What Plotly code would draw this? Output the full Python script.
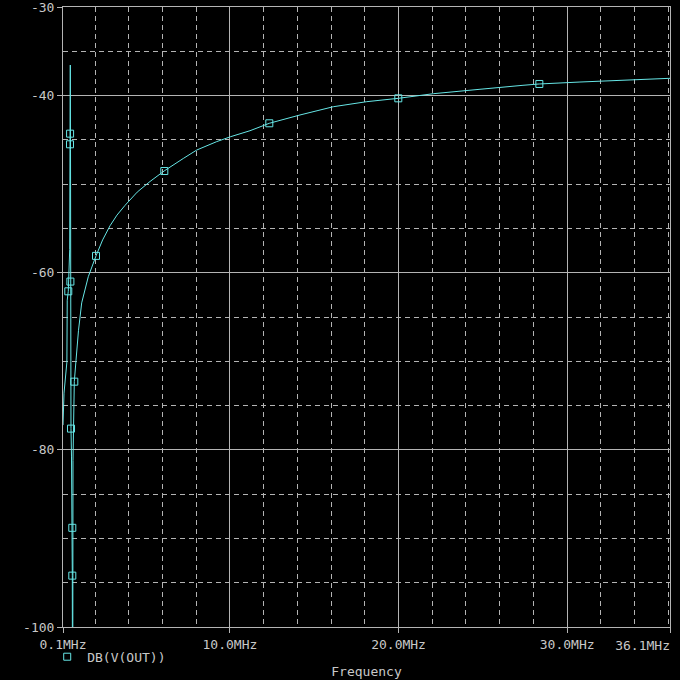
import plotly.graph_objects as go

# Trace DB(V(OUT)), in drawing order (MHz, dB)
freq_mhz = [0.10, 0.16, 0.33, 0.35, 0.414, 0.497, 0.515, 0.52, 0.533, 0.545,
            0.539, 0.557, 0.574, 0.604, 0.652, 0.652, 0.657,
            0.681, 0.693, 0.711, 0.77, 0.871, 1.019, 1.209, 1.60, 2.057,
            2.45, 2.888, 3.30, 3.777, 4.50, 5.26, 6.108, 7.235, 8.03, 9.216,
            10.046, 11.19, 12.335, 14.156, 16.131, 18.112, 19.986, 22.06,
            23.05, 24.83, 27.38, 28.35, 30.76, 33.33, 36.1]
db_out = [-77.2, -73.6, -70.1, -63.1, -62.1, -57.4, -45.5, -44.3, -36.55, -46.1,
          -61.0, -72.1, -77.6, -80.8, -88.8, -94.2, -101.5,
          -101.5, -81.2, -76.6, -72.3, -69.9, -66.5, -63.4, -60.45, -58.1,
          -56.3, -54.7, -53.5, -52.4, -50.9, -49.7, -48.5, -47.1, -46.15,
          -45.2, -44.64, -43.97, -43.13, -42.19, -41.26, -40.69, -40.31,
          -39.79, -39.63, -39.29, -38.84, -38.69, -38.47, -38.24, -38.05]

# Symbol (marker) positions along the trace
marker_freq = [0.414, 0.515, 0.52, 0.539, 0.574, 0.652, 0.652, 0.77,
               2.057, 6.108, 12.335, 19.986, 28.35]
marker_db = [-62.1, -45.5, -44.3, -61.0, -77.6, -88.8, -94.2, -72.3,
             -58.1, -48.52, -43.13, -40.31, -38.69]

x_tickvals = [0.1, 10.0, 20.0, 30.0, 36.1]
x_ticktext = ["0.1MHz", "10.0MHz", "20.0MHz", "30.0MHz", ""]
x_end_val = [36.1]
x_end_text = ["36.1MHz"]
x_minor = [2, 4, 6, 8, 12, 14, 16, 18, 22, 24, 26, 28, 32, 34, 36]
y_tickvals = [-30, -40, -60, -80, -100]
y_ticktext = ["-30", "-40", "-60", "-80", "-100"]
y_minor = [-35, -45, -50, -55, -65, -70, -75, -85, -90, -95]

trace_color = "#66e6e6"
grid_color = "#b4b4b4"
text_color = "#c8c8c8"
font_family = "DejaVu Sans Mono"

fig = go.Figure()
fig.add_trace(go.Scatter(x=freq_mhz, y=db_out, mode="lines",
                         line=dict(color=trace_color, width=1),
                         showlegend=False, hoverinfo="skip"))
fig.add_trace(go.Scatter(x=marker_freq, y=marker_db, mode="markers",
                         name="DB(V(OUT))",
                         marker=dict(symbol="square-open", size=7,
                                     color=trace_color,
                                     line=dict(color=trace_color, width=1)),
                         cliponaxis=False))
# empty trace so the overlay axis carrying the end label is drawn
fig.add_trace(go.Scatter(x=[], y=[], xaxis="x2", yaxis="y",
                         showlegend=False, hoverinfo="skip"))

axis_common = dict(
    showline=True, linecolor=grid_color, linewidth=1, mirror=True,
    showgrid=True, gridcolor=grid_color, gridwidth=1,
    ticks="outside", ticklen=5, tickcolor=grid_color, tickwidth=1,
    zeroline=False, ticklabeloverflow="allow",
    tickfont=dict(family=font_family, size=13, color=text_color),
)

fig.update_layout(
    xaxis=dict(
        range=[0.1, 36.1], tickmode="array", tickvals=x_tickvals,
        ticktext=x_ticktext,
        minor=dict(tickmode="array", tickvals=x_minor, showgrid=True,
                   gridcolor=grid_color, gridwidth=1, griddash="5px,4px",
                   ticks=""),
        title=dict(text="Frequency", standoff=16,
                   font=dict(family=font_family, size=13, color=text_color)),
        **axis_common),
    xaxis2=dict(
        overlaying="x", anchor="y", side="bottom",
        range=[0.1, 36.1], tickmode="array", tickvals=x_end_val,
        ticktext=x_end_text, ticklabelposition="outside left",
        ticklabelstandoff=9,
        showgrid=False, showline=False, zeroline=False, ticks="",
        ticklabeloverflow="allow",
        tickfont=dict(family=font_family, size=13, color=text_color)),
    yaxis=dict(
        range=[-100, -30], tickmode="array", tickvals=y_tickvals,
        ticktext=y_ticktext,
        minor=dict(tickmode="array", tickvals=y_minor, showgrid=True,
                   gridcolor=grid_color, gridwidth=1, griddash="5px,4px",
                   ticks=""),
        **axis_common),
    width=680, height=680,
    margin=dict(l=63, r=10, t=7, b=53, autoexpand=False),
    paper_bgcolor="black", plot_bgcolor="black",
    font=dict(family=font_family, size=13, color=text_color),
    legend=dict(x=-0.026, xanchor="left", y=-0.048, yanchor="middle",
                bgcolor="rgba(0,0,0,0)", borderwidth=0,
                font=dict(family=font_family, size=13, color=text_color),
                itemwidth=30),
    showlegend=True,
)

fig.write_html("out.html",
               config={"displayModeBar": False},
               post_script="document.body.style.margin='0';"
                           "document.body.style.background='black';")
